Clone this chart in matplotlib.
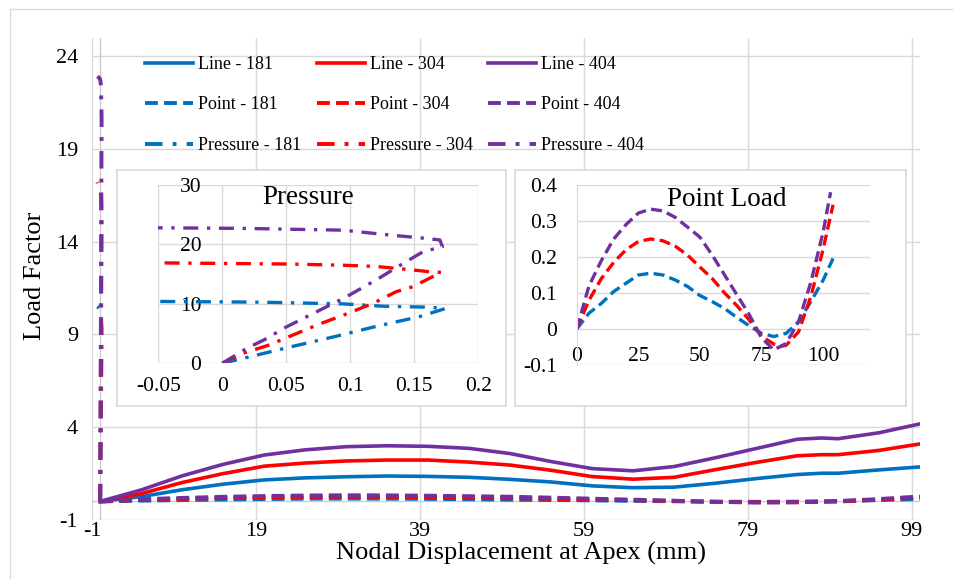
import matplotlib
matplotlib.use("Agg")
import matplotlib.pyplot as plt
from matplotlib.lines import Line2D

plt.rcParams['font.family'] = ['Liberation Serif', 'DejaVu Serif']
plt.rcParams['axes.unicode_minus'] = False

# ---------------- data ----------------
series_ids = ["181", "304", "404"]
colors = {"181": "#0070C0", "304": "#FF0000", "404": "#7030A0"}

# Line load: load factor vs apex displacement (mm)
line_x = [0, 2, 5, 10, 15, 20, 25, 30, 35, 40, 45, 50, 55, 60, 65, 70, 75, 80, 85, 88, 90, 95, 100]
line_181 = [0, 0.11, 0.26, 0.63, 0.93, 1.16, 1.27, 1.33, 1.37, 1.35, 1.30, 1.19, 1.05, 0.84, 0.74,
            0.77, 0.98, 1.23, 1.45, 1.52, 1.52, 1.70, 1.86]
line_304 = [0, 0.17, 0.42, 1.02, 1.50, 1.90, 2.07, 2.18, 2.23, 2.23, 2.12, 1.96, 1.68, 1.34, 1.20,
            1.30, 1.71, 2.10, 2.46, 2.52, 2.52, 2.75, 3.10]
line_404 = [0, 0.25, 0.62, 1.38, 2.00, 2.50, 2.78, 2.95, 3.00, 2.97, 2.86, 2.58, 2.15, 1.77, 1.65,
            1.88, 2.35, 2.85, 3.35, 3.42, 3.38, 3.70, 4.18]

# Point load
point_x_181 = [0, 5, 10, 15, 20, 25, 30, 35, 40, 45, 50, 55, 60, 65, 70, 75, 80, 85, 90, 95, 100, 104]
point_181 = [0, 0.044, 0.071, 0.104, 0.127, 0.150, 0.155, 0.150, 0.136, 0.118, 0.093, 0.076, 0.057,
             0.032, 0.009, -0.012, -0.021, -0.012, 0.020, 0.076, 0.136, 0.196]
point_x_304 = [0, 5, 10, 15, 20, 25, 30, 35, 40, 45, 50, 55, 60, 65, 70, 75, 80, 83, 85, 90, 95, 100, 104]
point_304 = [0, 0.080, 0.140, 0.185, 0.220, 0.243, 0.250, 0.245, 0.230, 0.205, 0.172, 0.140, 0.100,
             0.065, 0.025, -0.020, -0.042, -0.048, -0.045, -0.008, 0.090, 0.222, 0.345]
point_x_404 = [0, 5, 10, 15, 20, 25, 30, 35, 40, 45, 50, 55, 60, 65, 70, 75, 80, 85, 90, 95, 100, 103]
point_404 = [0, 0.120, 0.190, 0.250, 0.290, 0.322, 0.333, 0.328, 0.310, 0.283, 0.255, 0.205, 0.150,
             0.095, 0.040, -0.025, -0.058, -0.040, 0.020, 0.130, 0.270, 0.380]

# Pressure load (rising branch, then return branch towards negative displacement)
press_x_181 = [0, 0.0216, 0.054, 0.088, 0.12, 0.154, 0.174, 0.17, 0.16, 0.126, 0.0945, 0.05, 0.024, -0.046, -0.35]
press_181 = [0, 1.1, 2.8, 4.5, 6.2, 7.85, 9.2, 9.3, 9.45, 9.6, 10.0, 10.2, 10.3, 10.4, 10.5]
press_x_304 = [0, 0.0164, 0.037, 0.054, 0.074, 0.0945, 0.118, 0.136, 0.149, 0.171, 0.162, 0.149, 0.12,
               0.0945, 0.053, -0.05, -0.35]
press_304 = [0, 1.7, 3.1, 4.65, 6.45, 8.1, 10.1, 12.06, 12.9, 15.3, 15.4, 15.7, 16.3, 16.5, 16.7, 16.9, 17.2]
press_x_404 = [0, 0.019, 0.035, 0.048, 0.061, 0.079, 0.0945, 0.12, 0.139, 0.157, 0.172, 0.17, 0.16, 0.13,
               0.0945, 0.016, -0.05, -0.35]
press_404 = [0, 2.5, 4.2, 5.9, 7.3, 9.25, 10.9, 14.0, 16.5, 18.8, 19.6, 20.75, 21.0, 21.6, 22.4, 22.7, 22.8, 22.9]

line_data = {"181": line_181, "304": line_304, "404": line_404}
point_data = {"181": (point_x_181, point_181), "304": (point_x_304, point_304), "404": (point_x_404, point_404)}
press_data = {"181": (press_x_181, press_181), "304": (press_x_304, press_304), "404": (press_x_404, press_404)}

main_xticks = [-1, 19, 39, 59, 79, 99]
main_yticks = [-1, 4, 9, 14, 19, 24]
press_xticks = [-0.05, 0, 0.05, 0.1, 0.15, 0.2]
press_xlabels = ["-0.05", "0", "0.05", "0.1", "0.15", "0.2"]
press_yticks = [0, 10, 20, 30]
point_xticks = [0, 25, 50, 75, 100]
point_yticks = [-0.1, 0, 0.1, 0.2, 0.3, 0.4]
point_ylabels = ["-0.1", "0", "0.1", "0.2", "0.3", "0.4"]

# ---------------- styling ----------------
W, H = 954, 579
GRID = "#D9D9D9"
DASH = (3.3, 1.6)
DASHDOT = (4.5, 2.6, 1.0, 2.6)


def rect(x0, y0, x1, y1):
    """Pixel box (top-left origin) to figure-fraction rectangle."""
    return [x0 / W, 1 - y1 / H, (x1 - x0) / W, (y1 - y0) / H]


fig = plt.figure(figsize=(W / 100, H / 100), dpi=100)

# chart-area border
fig.add_artist(Line2D([10.5 / W, 10.5 / W, 1.0], [0.0, 1 - 8.5 / H, 1 - 8.5 / H],
                      transform=fig.transFigure, color=GRID, lw=1.0))

# ---------------- main axes ----------------
ax = fig.add_axes(rect(92, 37.5, 920, 520))
ax.set_xlim(-1, 100)
ax.set_ylim(-1, 25)
ax.set_xticks(main_xticks)
ax.set_yticks(main_yticks)
ax.grid(True, color=GRID, lw=1.0)
ax.set_axisbelow(True)
for s in ax.spines.values():
    s.set_visible(False)
ax.axhline(0, color="#CCCCCC", lw=1.0, zorder=1)
ax.axvline(0, color="#CCCCCC", lw=1.0, zorder=1)
ax.tick_params(length=0, labelsize=16)
ax.tick_params(axis="x", pad=1.5)
ax.tick_params(axis="y", pad=10)

handles = {}
for sid in series_ids:
    h, = ax.plot(line_x, line_data[sid], color=colors[sid], lw=2.6, label=f"Line - {sid}", zorder=3)
    handles[("Line", sid)] = h
for sid in series_ids:
    px, py = point_data[sid]
    h, = ax.plot(px, py, color=colors[sid], lw=2.8, dashes=DASH, dash_capstyle="butt",
                 label=f"Point - {sid}", zorder=4)
    handles[("Point", sid)] = h
for sid in series_ids:
    qx, qy = press_data[sid]
    h, = ax.plot(qx, qy, color=colors[sid], lw=2.8, dashes=DASHDOT, dash_capstyle="butt",
                 label=f"Pressure - {sid}", zorder=5)
    handles[("Pressure", sid)] = h

order = [(kind, sid) for sid in series_ids for kind in ("Line", "Point", "Pressure")]
leg = fig.legend([handles[k] for k in order], [handles[k].get_label() for k in order],
                 ncol=3, loc="upper left", bbox_to_anchor=(145 / W, 1 - 56 / H),
                 frameon=False, fontsize=13, handlelength=2.66, handletextpad=0.28,
                 columnspacing=0.85, labelspacing=1.3, borderpad=0, borderaxespad=0)

fig.text(521.5 / W, 1 - 560 / H, "Nodal Displacement at Apex (mm)", ha="center", va="baseline",
         fontsize=19)
fig.text(35 / W, 1 - 276 / H, "Load Factor", ha="center", va="center", rotation=90, fontsize=19)


# ---------------- inset frames ----------------
def frame(x0, y0, x1, y1):
    b = fig.add_axes(rect(x0, y0, x1, y1), zorder=2)
    b.set_facecolor("white")
    b.set_xticks([])
    b.set_yticks([])
    for s in b.spines.values():
        s.set_color(GRID)
        s.set_linewidth(1.2)
    return b


frame(117, 170, 506, 406)
frame(515, 170, 906, 406)

# ---------------- pressure inset ----------------
ap = fig.add_axes(rect(158.3, 185, 478.3, 363.3), zorder=3)
ap.set_facecolor("none")
ap.set_xlim(-0.05, 0.2)
ap.set_ylim(0, 30)
ap.set_xticks(press_xticks)
ap.set_xticklabels(press_xlabels)
ap.set_yticks(press_yticks)
ap.grid(True, color=GRID, lw=1.0)
ap.set_axisbelow(True)
for s in ap.spines.values():
    s.set_visible(False)
ap.spines["left"].set_position(("data", 0))
ap.tick_params(length=0, labelsize=15.5)
ap.tick_params(axis="x", pad=10)
ap.tick_params(axis="y", pad=15)
for sid in series_ids:
    qx, qy = press_data[sid]
    ap.plot(qx, qy, color=colors[sid], lw=2.4, dashes=DASHDOT, dash_capstyle="butt")
fig.text(308 / W, 1 - 198 / H, "Pressure", ha="center", va="center", fontsize=19.5, zorder=4)

# ---------------- point-load inset ----------------
aq = fig.add_axes(rect(576.7, 185, 870, 365), zorder=3)
aq.set_facecolor("none")
aq.set_xlim(0, 119)
aq.set_ylim(-0.1, 0.4)
aq.set_xticks(point_xticks)
aq.set_yticks(point_yticks)
aq.set_yticklabels(point_ylabels)
aq.yaxis.grid(True, color=GRID, lw=1.0)
aq.set_axisbelow(True)
for s in aq.spines.values():
    s.set_visible(False)
aq.spines["left"].set_visible(True)
aq.spines["left"].set_color(GRID)
aq.spines["bottom"].set_position(("data", 0))
aq.tick_params(length=0, labelsize=15.5)
aq.tick_params(axis="x", pad=13)
aq.tick_params(axis="y", pad=14)
for sid in series_ids:
    px, py = point_data[sid]
    aq.plot(px, py, color=colors[sid], lw=2.4, dashes=DASH, dash_capstyle="butt")
fig.text(727 / W, 1 - 200 / H, "Point Load", ha="center", va="center", fontsize=19.5, zorder=4)

fig.savefig("out.png", dpi=100)
